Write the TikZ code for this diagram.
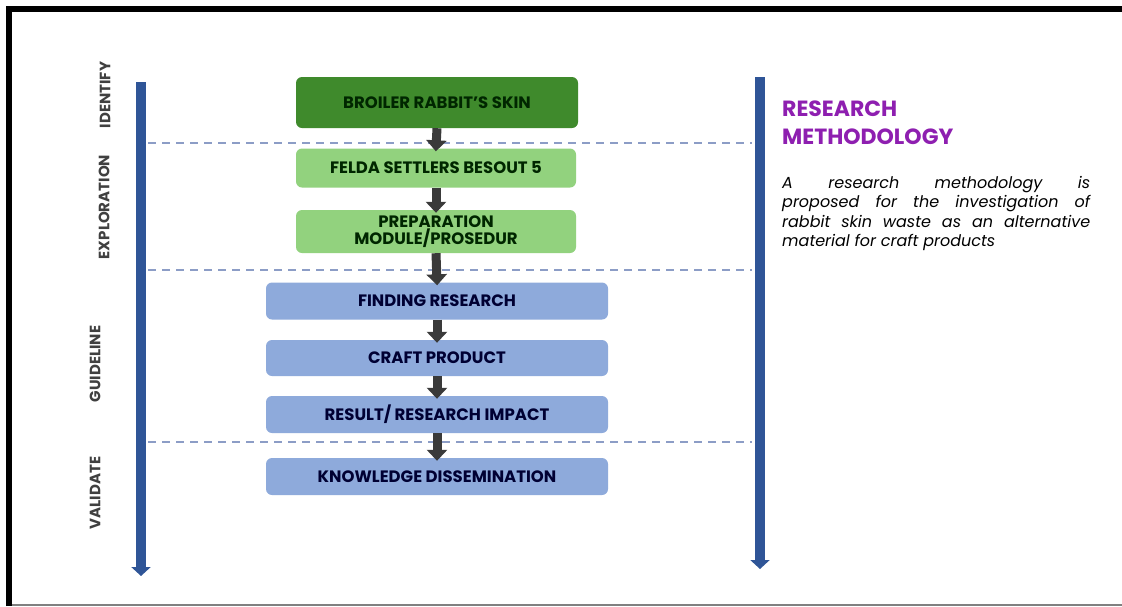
\documentclass[tikz,border=0pt]{standalone}
\usepackage{fontspec}
\setmainfont{Poppins}
\usetikzlibrary{arrows.meta}
\definecolor{axisblue}{HTML}{2F5597}
\definecolor{darkgreen}{HTML}{3F8A2C}
\definecolor{lightgreen}{HTML}{92D27E}
\definecolor{stepblue}{HTML}{8EAADB}
\definecolor{dashgray}{HTML}{8C9DC6}
\definecolor{headpurple}{HTML}{8E1FB0}
\definecolor{flowgray}{HTML}{3A3A3A}
\begin{document}
\begin{tikzpicture}[x=1pt,y=-1pt,
  stepbox/.style={rounded corners=6pt, minimum height=#1, inner sep=0pt,
    font=\fontsize{16.5}{17}\selectfont\bfseries, align=center},
  greenbox/.style={stepbox=#1, fill=lightgreen, text=black!85!green, minimum width=280pt},
  bluebox/.style={stepbox=#1, fill=stepblue, text=black!80!blue, minimum width=342pt},
  flow/.style={flowgray, line width=9pt, -{Triangle[width=20pt,length=11pt]}, shorten >=-3pt},
  axis/.style={axisblue, line width=9.5pt, -{Triangle[width=19pt,length=9pt]}},
  sep/.style={dashgray, line width=1.4pt, dash pattern=on 8pt off 6pt},
  phase/.style={rotate=90, font=\fontsize{15}{16}\selectfont\bfseries, text=black!75}]
\useasboundingbox (0,0) rectangle (1122,606);
\fill[white] (0,0) rectangle (1122,606);

% frame
\draw[black, line width=6pt] (9,606) -- (9,9) -- (1122,9);
\draw[gray, line width=1.5pt] (12,605) -- (1122,605);

% phase separators
\coordinate (s1a) at (148,143); \coordinate (s1b) at (752,143);
\coordinate (s2a) at (148,270); \coordinate (s2b) at (752,270);
\coordinate (s3a) at (148,442); \coordinate (s3b) at (752,442);
\draw[sep] (s1a) -- (s1b);
\draw[sep] (s2a) -- (s2b);
\draw[sep] (s3a) -- (s3b);

% time axes
\coordinate (la) at (141,82);  \coordinate (lb) at (141,576);
\coordinate (ra) at (760,77);  \coordinate (rb) at (760,569);
\draw[axis] (la) -- (lb);
\draw[axis] (ra) -- (rb);

% phase labels
\node[phase] (identify) at (105,95) {IDENTIFY};
\node[phase] (explore) at (104,207) {EXPLORATION};
\node[phase] (guide) at (95,364) {GUIDELINE};
\node[phase] (validate) at (95,493) {VALIDATE};

% steps
\node[stepbox=51pt, fill=darkgreen, text=black!85!green, minimum width=282pt] (b1) at (437,102.5) {BROILER RABBIT'S SKIN};
\node[greenbox=39pt] (b2) at (436,168) {FELDA SETTLERS BESOUT 5};
\node[greenbox=43pt] (b3) at (436,231.5) {PREPARATION\\MODULE/PROSEDUR};
\node[bluebox=37pt] (b4) at (437,301) {FINDING RESEARCH};
\node[bluebox=36pt] (b5) at (437,358) {CRAFT PRODUCT};
\node[bluebox=37pt] (b6) at (437,414.5) {RESULT/ RESEARCH IMPACT};
\node[bluebox=37pt] (b7) at (437,476.5) {KNOWLEDGE DISSEMINATION};

% flow arrows
\draw[flow] (b1.south) -- (b2.north);
\draw[flow] (b2.south) -- (b3.north);
\draw[flow] (b3.south) -- (b4.north);
\draw[flow] (b4.south) -- (b5.north);
\draw[flow] (b5.south) -- (b6.north);
\draw[flow] (b6.south) -- (b7.north);

% description
\node[anchor=north west, inner sep=0pt, text=headpurple, align=left,
  font=\fontsize{22}{28}\selectfont\bfseries] (title) at (782,101)
  {RESEARCH\\METHODOLOGY};
\node[anchor=north west, inner sep=0pt, text width=308pt, align=justify,
  font=\fontsize{16}{19.5}\selectfont\itshape] (desc) at (782,176)
  {A research methodology is\linebreak proposed for the investigation of\linebreak rabbit skin waste as an alternative\linebreak material for craft products};
\end{tikzpicture}
\end{document}
